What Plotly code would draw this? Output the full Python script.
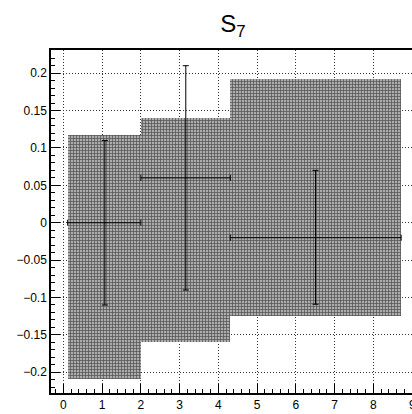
import plotly.graph_objects as go

# Data
x_points = [1.07, 3.16, 6.51]
y_points = [0.0, 0.06, -0.02]
x_low = [0.11, 2.0, 4.31]
x_high = [2.0, 4.31, 8.72]
y_stat_low = [-0.11, -0.09, -0.109]
y_stat_high = [0.11, 0.21, 0.07]
y_sys_low = [-0.209, -0.160, -0.125]
y_sys_high = [0.117, 0.140, 0.192]
edge_tick_label = "9"

box_center = [(a + b) / 2 for a, b in zip(x_low, x_high)]
box_width = [b - a for a, b in zip(x_low, x_high)]
box_height = [h - l for l, h in zip(y_sys_low, y_sys_high)]

fig = go.Figure()

fig.add_trace(go.Bar(
    x=box_center, y=box_height, base=y_sys_low, width=box_width,
    marker=dict(color="#a0a0a0", line=dict(width=0),
                pattern=dict(shape="+", fgcolor="#4e4e4e", bgcolor="#acacac",
                             size=3, solidity=0.4, fillmode="replace")),
    hoverinfo="skip", showlegend=False,
))

fig.add_trace(go.Scatter(
    x=x_points, y=y_points, mode="markers",
    marker=dict(size=1, color="black"),
    error_x=dict(type="data", symmetric=False,
                 array=[h - p for h, p in zip(x_high, x_points)],
                 arrayminus=[p - l for l, p in zip(x_low, x_points)],
                 color="black", thickness=1, width=3),
    error_y=dict(type="data", symmetric=False,
                 array=[h - p for h, p in zip(y_stat_high, y_points)],
                 arrayminus=[p - l for l, p in zip(y_stat_low, y_points)],
                 color="black", thickness=1, width=3),
    hoverinfo="skip", showlegend=False,
))

fig.update_layout(
    width=412, height=414,
    margin=dict(l=51, r=0, t=50, b=21),
    paper_bgcolor="white", plot_bgcolor="white",
    font=dict(family="Liberation Sans, Arial, sans-serif", size=12, color="black"),
    title=dict(text="S<sub>7</sub>", x=233 / 412, xref="container", xanchor="center",
               y=1 - 24 / 414, yref="container", yanchor="middle",
               font=dict(size=24, family="Liberation Sans, Arial, sans-serif")),
    bargap=0,
    showlegend=False,
)

# Partially visible tick label at the right edge (as in the reference)
fig.add_annotation(x=9.0, xref="x", y=0, yref="paper", yanchor="top", yshift=-3,
                   text=edge_tick_label, showarrow=False, xanchor="center",
                   font=dict(size=12, color="black"))

fig.update_xaxes(
    range=[-0.32, 9.0], tickmode="linear", tick0=0, dtick=1,
    ticks="inside", ticklen=9, tickwidth=1, tickcolor="black",
    minor=dict(ticks="inside", ticklen=4, tick0=0, dtick=0.2, tickcolor="black", showgrid=False),
    showline=True, linecolor="black", linewidth=1.5, mirror=True,
    showgrid=True, gridcolor="#333", griddash="1px,2px", gridwidth=1,
    zeroline=False, tickfont=dict(size=12),
)
fig.update_yaxes(
    range=[-0.2277, 0.231], tickmode="linear", tick0=0, dtick=0.05,
    ticks="inside", ticklen=9, tickwidth=1, tickcolor="black",
    minor=dict(ticks="inside", ticklen=4, tick0=0, dtick=0.01, tickcolor="black", showgrid=False),
    showline=True, linecolor="black", linewidth=1.5, mirror=False,
    showgrid=True, gridcolor="#333", griddash="1px,2px", gridwidth=1,
    zeroline=False, tickfont=dict(size=12), tickformat="~g",
)

fig.write_html("out.html")
